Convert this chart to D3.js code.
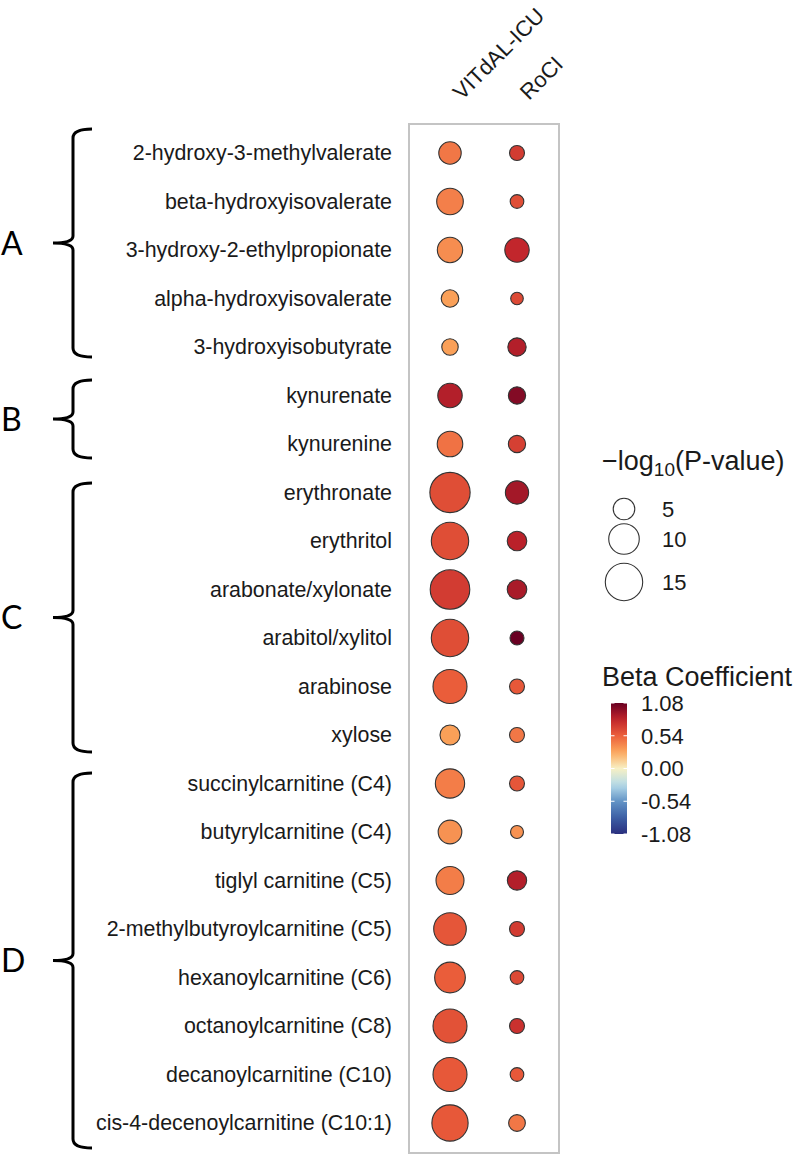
<!DOCTYPE html>
<html><head><meta charset="utf-8">
<script src="https://cdn.jsdelivr.net/npm/d3@7"></script>
<style>body{margin:0;background:#fff;} svg{display:block;font-family:"Liberation Sans",Arial,sans-serif;}</style>
</head><body>
<svg id="chart" width="797" height="1157"></svg>
<script>
const metabolites = ["2-hydroxy-3-methylvalerate","beta-hydroxyisovalerate","3-hydroxy-2-ethylpropionate","alpha-hydroxyisovalerate","3-hydroxyisobutyrate","kynurenate","kynurenine","erythronate","erythritol","arabonate/xylonate","arabitol/xylitol","arabinose","xylose","succinylcarnitine (C4)","butyrylcarnitine (C4)","tiglyl carnitine (C5)","2-methylbutyroylcarnitine (C5)","hexanoylcarnitine (C6)","octanoylcarnitine (C8)","decanoylcarnitine (C10)","cis-4-decenoylcarnitine (C10:1)"];
const cohorts = ["VITdAL-ICU","RoCI"];
const vitdalBeta = [0.45,0.42,0.37,0.30,0.30,0.85,0.47,0.62,0.62,0.70,0.62,0.55,0.30,0.43,0.35,0.43,0.58,0.55,0.60,0.57,0.57];
const vitdalLogP = [5.4,7.6,6.9,3.3,2.9,6.4,7.0,17.4,15.0,16.8,15.0,12.4,4.3,9.2,6.0,8.4,11.4,10.1,12.4,12.4,14.1];
const rociBeta = [0.70,0.62,0.80,0.64,0.85,1.00,0.68,0.90,0.83,0.88,1.08,0.57,0.45,0.58,0.35,0.85,0.70,0.64,0.75,0.57,0.45];
const rociLogP = [2.4,2.0,6.4,1.7,3.6,3.2,3.2,5.8,4.1,4.1,2.1,2.4,2.4,2.4,1.8,4.0,2.4,2.0,2.4,2.0,3.0];
const groupLabels = ["A","B","C","D"];
const groupFirst = ["2-hydroxy-3-methylvalerate","kynurenate","erythronate","succinylcarnitine (C4)"];
const groupLast = ["3-hydroxyisobutyrate","kynurenine","xylose","cis-4-decenoylcarnitine (C10:1)"];
const sizeBreaks = [5,10,15];
const colorTicks = [1.08,0.54,0.00,-0.54,-1.08];

// layout / style (not data)
const bracePad = [[24,10],[15.5,14],[9.5,17],[10.5,25]];

const svg = d3.select("#chart");
const y = d3.scalePoint().domain(metabolites).range([153,1123]);
const x = d3.scalePoint().domain(cohorts).range([450,517]);
const r = d3.scaleSqrt().domain([0,15]).range([0,18.7]);
const colorStops = ["#2a2f7e","#3c5fa5","#6394c6","#b5dbea","#f7f0c4","#fca85c","#ec5f3b","#c0242b","#690022"];
const color = d3.scaleLinear()
  .domain(d3.range(9).map(i => -1.08 + i*0.27))
  .range(colorStops).interpolate(d3.interpolateRgb).clamp(true);

// panel border
svg.append("rect").attr("x",409).attr("y",124).attr("width",150).attr("height",1029)
  .attr("fill","none").attr("stroke","#c4c4c4").attr("stroke-width",2);

// row labels via axis
const yAxis = svg.append("g").attr("transform","translate(398,0)")
  .call(d3.axisLeft(y).tickSize(0).tickPadding(6));
yAxis.select(".domain").remove();
yAxis.selectAll("text").attr("font-size",21.4).attr("fill","#1a1a1a")
  .attr("font-family","'Liberation Sans',Arial,sans-serif");

// column headers
svg.append("g").selectAll("text").data(cohorts).join("text")
  .attr("transform", d => `translate(${x(d)+12},101) rotate(-45)`)
  .attr("font-size",22).attr("fill","#1a1a1a").text(d => d);

// points
const pts = [];
metabolites.forEach((m,i) => {
  pts.push({m, c:cohorts[0], b:vitdalBeta[i], p:vitdalLogP[i]});
  pts.push({m, c:cohorts[1], b:rociBeta[i], p:rociLogP[i]});
});
svg.append("g").selectAll("circle").data(pts).join("circle")
  .attr("cx", d => x(d.c)).attr("cy", d => y(d.m)).attr("r", d => r(d.p))
  .attr("fill", d => color(d.b)).attr("stroke","#333").attr("stroke-width",1.1);

// braces
groupLabels.forEach((g,i) => {
  const top = y(groupFirst[i]) - bracePad[i][0];
  const bot = y(groupLast[i]) + bracePad[i][1];
  const mid = (top+bot)/2;
  const vx = 73, hx = 92, nx = 53;
  const path = `M${hx},${top} Q${vx},${top} ${vx},${top+9} L${vx},${mid-7} Q${vx},${mid} ${nx},${mid} Q${vx},${mid} ${vx},${mid+7} L${vx},${bot-9} Q${vx},${bot} ${hx},${bot}`;
  svg.append("path").attr("d",path).attr("fill","none").attr("stroke","#000").attr("stroke-width",3);
  svg.append("text").attr("x",1).attr("y",mid).attr("dy","0.36em").attr("text-anchor","start")
    .attr("font-family","Lato,'Open Sans',sans-serif").attr("font-size",32).attr("fill","#000").text(g);
});

// size legend
const sl = svg.append("g");
const st = sl.append("text").attr("x",602).attr("y",470).attr("font-size",27).attr("fill","#1a1a1a");
st.append("tspan").text("\u2212log");
st.append("tspan").attr("font-size",19).attr("dy",6).text("10");
st.append("tspan").attr("dy",-6).text("(P-value)");
const sy = [509,539,582];
sl.selectAll("circle").data(sizeBreaks).join("circle")
  .attr("cx",624).attr("cy",(d,i)=>sy[i]).attr("r",d=>r(d))
  .attr("fill","#fff").attr("stroke","#333").attr("stroke-width",1.1);
sl.selectAll("text.lab").data(sizeBreaks).join("text").attr("class","lab")
  .attr("x",662).attr("y",(d,i)=>sy[i]).attr("dy","0.36em").attr("font-size",22).attr("fill","#1a1a1a").text(d=>d);

// colour legend
const cb = svg.append("g");
cb.append("text").attr("x",602).attr("y",686).attr("font-size",27).attr("fill","#1a1a1a").text("Beta Coefficient");
const cy = d3.scaleLinear().domain([1.08,-1.08]).range([703,834]);
const defs = svg.append("defs");
const grad = defs.append("linearGradient").attr("id","cbg").attr("x1",0).attr("y1",0).attr("x2",0).attr("y2",1);
d3.range(0,1.0001,0.05).forEach(t => {
  grad.append("stop").attr("offset",t).attr("stop-color",color(1.08 - t*2.16));
});
cb.append("rect").attr("x",611).attr("y",cy(1.08)).attr("width",16).attr("height",cy(-1.08)-cy(1.08)).attr("fill","url(#cbg)");
colorTicks.forEach(v => {
  cb.append("line").attr("x1",611).attr("x2",614.5).attr("y1",cy(v)).attr("y2",cy(v)).attr("stroke","#fff").attr("stroke-width",1);
  cb.append("line").attr("x1",623.5).attr("x2",627).attr("y1",cy(v)).attr("y2",cy(v)).attr("stroke","#fff").attr("stroke-width",1);
});
cb.selectAll("text.t").data(colorTicks).join("text").attr("class","t")
  .attr("x",641).attr("y",d=>cy(d)).attr("dy","0.36em").attr("font-size",22).attr("fill","#1a1a1a")
  .text(d=>d3.format(".2f")(d).replace("\u2212","-"));
</script>
</body></html>
